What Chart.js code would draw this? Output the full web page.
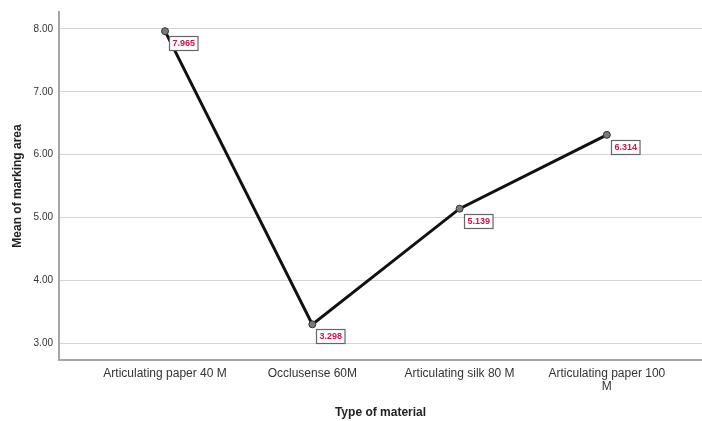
<!DOCTYPE html>
<html>
<head>
<meta charset="utf-8">
<script src="https://cdn.jsdelivr.net/npm/chart.js@4"></script>
<style>
  body { margin: 0; background: #fff; overflow: hidden; }
</style>
</head>
<body>
<canvas id="myChart" width="707" height="421"></canvas>
<script>
// chart data
const categories = ['Articulating paper 40 M', 'Occlusense 60M', 'Articulating silk 80 M', ['Articulating paper 100', 'M']];
const meanArea = [7.965, 3.298, 5.139, 6.314];
const yTicks = [3, 4, 5, 6, 7, 8];

// little boxed value labels next to each point
const valueLabels = {
  id: 'valueLabels',
  afterDatasetsDraw(chart) {
    const ctx = chart.ctx;
    const meta = chart.getDatasetMeta(0);
    ctx.save();
    ctx.font = 'bold 9px "Liberation Sans", Arial, sans-serif';
    ctx.textBaseline = 'middle';
    meta.data.forEach((pt, i) => {
      const txt = meanArea[i].toFixed(3);
      const w = ctx.measureText(txt).width + 6;
      const h = 14;
      const bx = Math.round(pt.x + 4), by = Math.round(pt.y + 5);
      ctx.fillStyle = '#fff';
      ctx.fillRect(bx, by, w, h);
      ctx.strokeStyle = '#666';
      ctx.lineWidth = 1.2;
      ctx.strokeRect(bx + 0.5, by + 0.5, w, h);
      ctx.fillStyle = '#c8174a';
      ctx.fillText(txt, bx + 3.5, by + h / 2 + 1);
    });
    ctx.restore();
  }
};

const ctx = document.getElementById('myChart');

new Chart(ctx, {
  type: 'line',
  data: {
    datasets: [{
      data: meanArea.map((v, i) => ({ x: i, y: v })),
      borderColor: '#111',
      borderWidth: 3,
      pointRadius: 3.5,
      pointBackgroundColor: '#7a7a7a',
      pointBorderColor: '#333',
      pointBorderWidth: 1,
      tension: 0
    }]
  },
  options: {
    responsive: false,
    animation: false,
    layout: { padding: { top: 12, left: 0, right: 0, bottom: 0 } },
    plugins: { legend: { display: false }, tooltip: { enabled: false } },
    scales: {
      x: {
        type: 'linear',
        min: -0.72,
        max: 3.646,
        afterBuildTicks: (s) => { s.ticks = categories.map((c, i) => ({ value: i })); },
        afterFit: (s) => { s.height = 61; },
        grid: { display: false, drawTicks: false },
        border: { display: true, color: '#a6a6a6', width: 2 },
        ticks: {
          autoSkip: false,
          maxRotation: 0,
          padding: 7,
          color: '#333',
          font: { family: '"Liberation Sans", Arial, sans-serif', size: 12, lineHeight: 1.1 },
          callback: (v) => categories[v]
        },
        title: {
          display: true,
          text: 'Type of material',
          color: '#222',
          font: { family: '"Liberation Sans", Arial, sans-serif', size: 12, weight: 'bold' },
          padding: { top: 0, bottom: 1 }
        }
      },
      y: {
        min: 2.73,
        max: 8.27,
        afterBuildTicks: (s) => { s.ticks = yTicks.map(v => ({ value: v })); },
        afterFit: (s) => { s.width = 59; },
        grid: { color: '#d4d4d4', lineWidth: 1, drawTicks: false },
        border: { display: true, color: '#a6a6a6', width: 2 },
        ticks: {
          padding: 6,
          color: '#333',
          font: { family: '"Liberation Sans", Arial, sans-serif', size: 10 },
          callback: (v) => v.toFixed(2)
        },
        title: {
          display: true,
          text: 'Mean of marking area',
          color: '#222',
          font: { family: '"Liberation Sans", Arial, sans-serif', size: 12, weight: 'bold' },
          padding: { top: 10, bottom: 0 }
        }
      }
    }
  },
  plugins: [valueLabels]
});
</script>
</body>
</html>
